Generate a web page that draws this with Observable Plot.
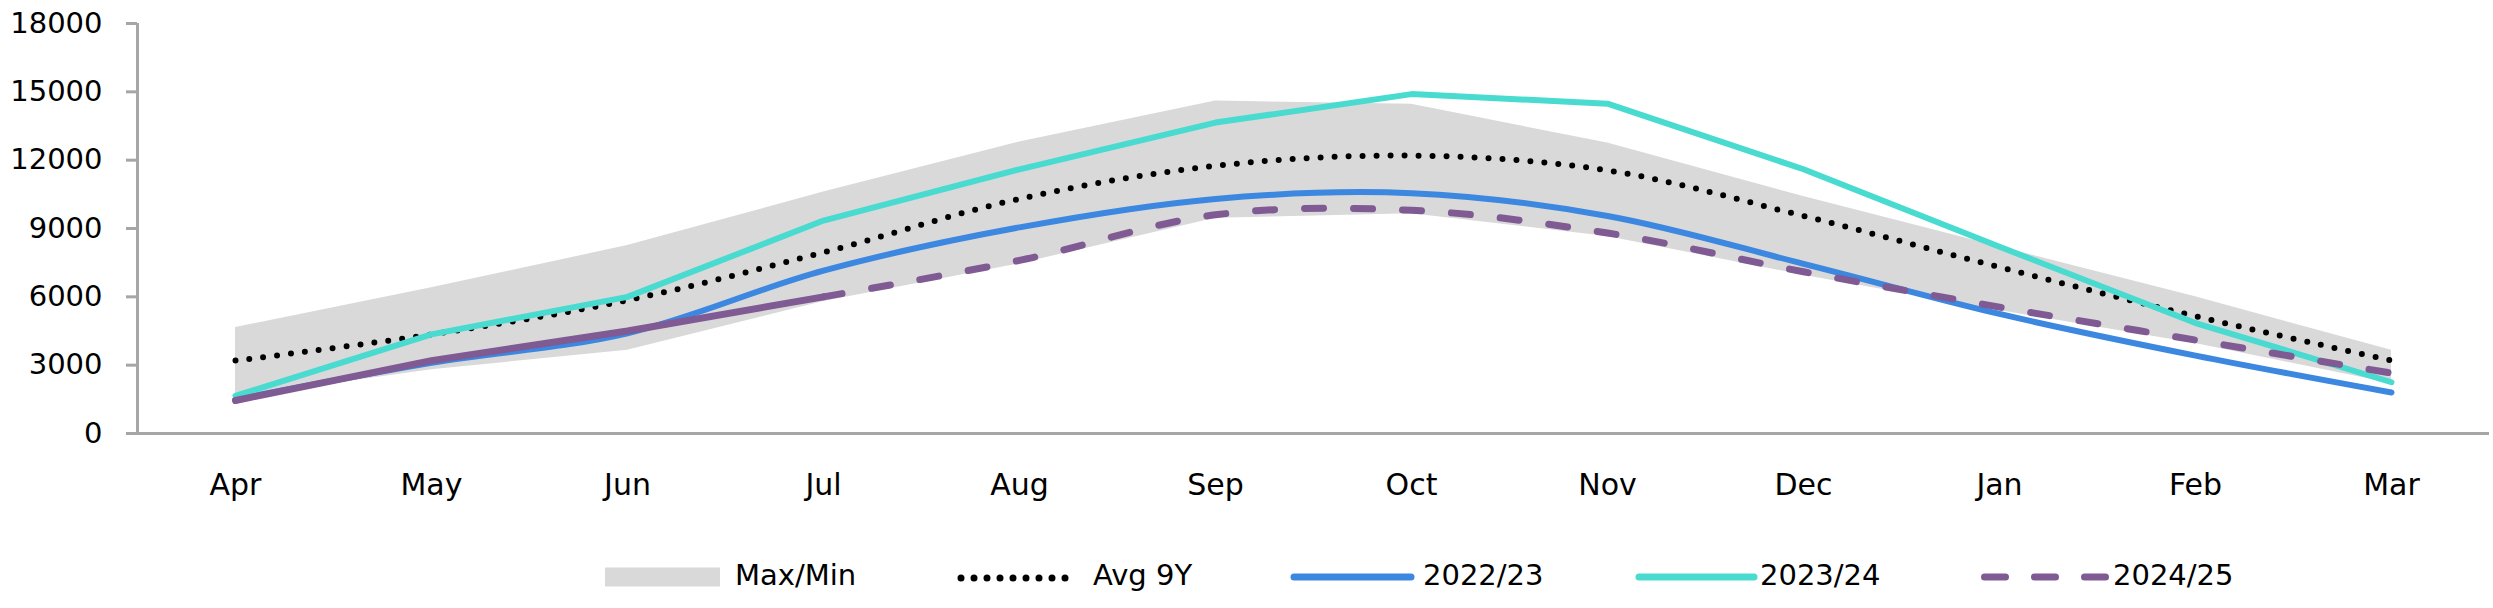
<!DOCTYPE html>
<html><head><meta charset="utf-8">
<script src="https://cdn.jsdelivr.net/npm/d3@7"></script>
<script src="https://cdn.jsdelivr.net/npm/@observablehq/plot@0.6"></script>
<style>
body{margin:0;background:#fff;font-family:"DejaVu Sans",sans-serif}
#chart svg{display:block}
#legend svg{display:block}
</style>
</head><body><div id="chart"></div><div id="legend"></div>
<script>
const months = ["Apr","May","Jun","Jul","Aug","Sep","Oct","Nov","Dec","Jan","Feb","Mar"];
const yTicks = [0, 3000, 6000, 9000, 12000, 15000, 18000];
const maxValues = [4650, 6400, 8250, 10600, 12800, 14600, 14450, 12750, 10400, 8200, 6000, 3650];
const minValues = [1600, 2800, 3650, 5800, 7450, 9450, 9650, 8650, 6950, 5400, 3950, 2200];
const avg9Y     = [3200, 4350, 5850, 7950, 10300, 11750, 12200, 11550, 9550, 7300, 5150, 3200];
const s2022_23  = [1500, 3100, 4400, 7150, 9050, 10300, 10550, 9550, 7450, 5250, 3420, 1800];
const s2023_24  = [1650, 4350, 6000, 9350, 11600, 13650, 14900, 14480, 11600, 8200, 4850, 2250];
const s2024_25  = [1450, 3200, 4500, 6000, 7600, 9600, 9800, 8800, 7100, 5550, 4100, 2650];
const legendLabels = ["Max/Min", "Avg 9Y", "2022/23", "2023/24", "2024/25"];

const colors = {band:"#d9d9d9", avg:"#000000", c2223:"#3c87e0", c2324:"#49dbd0", c2425:"#7f5a93", axis:"#a6a6a6"};

const rows = months.map((m, i) => ({
  i, month: m, max: maxValues[i], min: minValues[i], avg: avg9Y[i],
  a: s2022_23[i], b: s2023_24[i], c: s2024_25[i]
}));

const chart = Plot.plot({
  width: 2493, height: 510,
  marginLeft: 137, marginRight: 4, marginTop: 23, marginBottom: 77,
  style: {fontFamily: "DejaVu Sans", fontSize: "29px", color: "#000", background: "#fff", overflow: "visible"},
  x: {type: "linear", domain: [-0.5, 11.5], label: null},
  y: {domain: [0, 18000], label: null},
  marks: [
    Plot.areaY(rows, {x: "i", y1: "min", y2: "max", fill: colors.band}),
    Plot.ruleY([0], {stroke: colors.axis, strokeWidth: 3}),
    Plot.ruleX([-0.5], {stroke: colors.axis, strokeWidth: 3}),
    Plot.axisY({ticks: yTicks, tickSize: 11, tickPadding: 24, stroke: colors.axis, strokeWidth: 3, fill: "#000", tickFormat: d => String(d), fontSize: 29}),
    Plot.axisX({ticks: d3.range(months.length), tickFormat: i => months[i], tickSize: 0, tickPadding: 40, fill: "#000", fontSize: 30}),
    Plot.line(rows, {x: "i", y: "avg", stroke: colors.avg, strokeWidth: 6, strokeDasharray: "0 14", strokeLinecap: "round", curve: "catmull-rom"}),
    Plot.line(rows, {x: "i", y: "a", stroke: colors.c2223, strokeWidth: 6, strokeLinecap: "round", strokeLinejoin: "round", curve: "catmull-rom"}),
    Plot.line(rows, {x: "i", y: "b", stroke: colors.c2324, strokeWidth: 6, strokeLinecap: "round", strokeLinejoin: "round"}),
    Plot.line(rows.slice(0, 4), {x: "i", y: "c", stroke: colors.c2425, strokeWidth: 7, strokeLinecap: "round", strokeLinejoin: "round"}),
    Plot.line(rows.slice(3), {x: "i", y: "c", stroke: colors.c2425, strokeWidth: 7, strokeDasharray: "19 30", strokeLinecap: "round", curve: "catmull-rom"})
  ]
});
document.getElementById("chart").appendChild(chart);

// Legend
const lg = d3.select("#legend").append("svg").attr("width", 2493).attr("height", 98)
  .style("font-family", "DejaVu Sans").style("font-size", "29px");
const cy = 67;
lg.append("rect").attr("x", 605).attr("y", cy - 9.5).attr("width", 115).attr("height", 19).attr("fill", colors.band);
lg.append("text").attr("x", 735).attr("y", cy + 8).text(legendLabels[0]);
lg.append("line").attr("x1", 961).attr("x2", 1078).attr("y1", cy + 1).attr("y2", cy + 1)
  .attr("stroke", colors.avg).attr("stroke-width", 7).attr("stroke-dasharray", "0 13").attr("stroke-linecap", "round");
lg.append("text").attr("x", 1093).attr("y", cy + 8).text(legendLabels[1]);
lg.append("line").attr("x1", 1294).attr("x2", 1411).attr("y1", cy).attr("y2", cy)
  .attr("stroke", colors.c2223).attr("stroke-width", 7).attr("stroke-linecap", "round");
lg.append("text").attr("x", 1423).attr("y", cy + 8).text(legendLabels[2]);
lg.append("line").attr("x1", 1639).attr("x2", 1754).attr("y1", cy).attr("y2", cy)
  .attr("stroke", colors.c2324).attr("stroke-width", 7).attr("stroke-linecap", "round");
lg.append("text").attr("x", 1760).attr("y", cy + 8).text(legendLabels[3]);
lg.append("line").attr("x1", 1984.5).attr("x2", 2105.5).attr("y1", cy).attr("y2", cy)
  .attr("stroke", colors.c2425).attr("stroke-width", 7).attr("stroke-dasharray", "21 29").attr("stroke-linecap", "round");
lg.append("text").attr("x", 2113).attr("y", cy + 8).text(legendLabels[4]);
</script>
</body></html>
